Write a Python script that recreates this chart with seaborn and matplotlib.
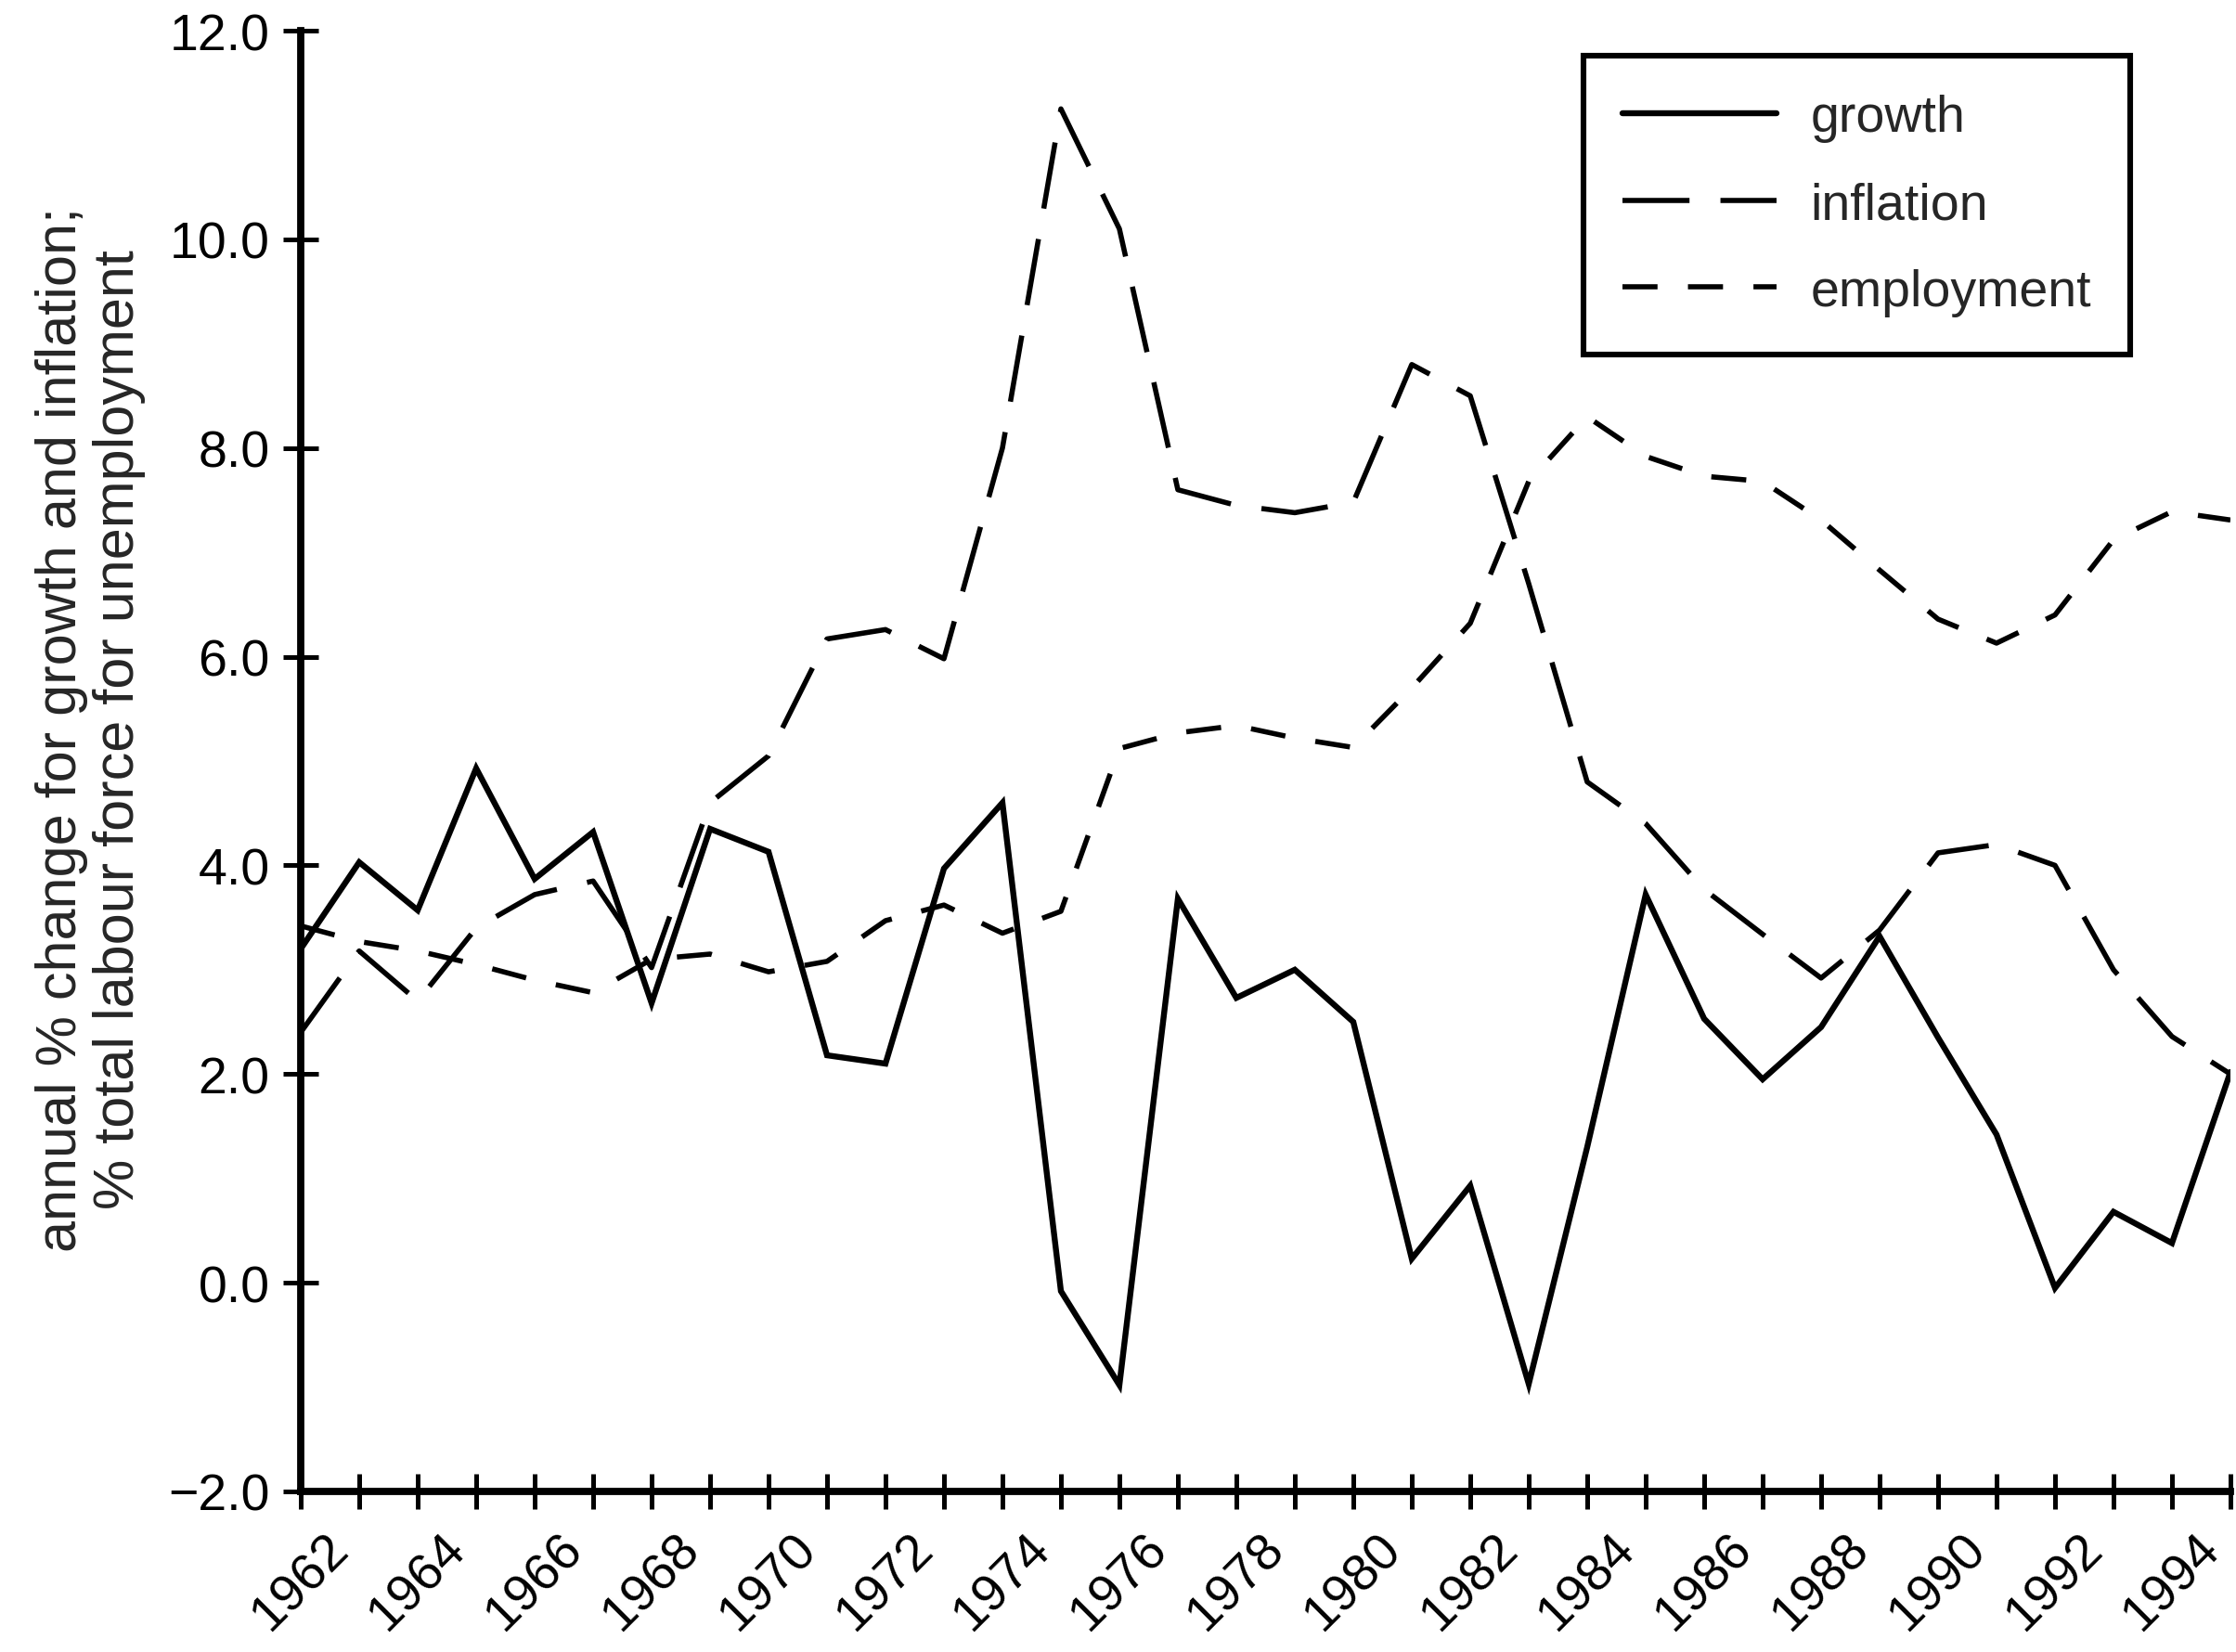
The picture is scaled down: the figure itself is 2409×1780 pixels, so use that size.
import matplotlib
matplotlib.use("Agg")
import matplotlib.pyplot as plt
import seaborn as sns
import pandas as pd

years = [1962, 1963, 1964, 1965, 1966, 1967, 1968, 1969, 1970, 1971, 1972,
         1973, 1974, 1975, 1976, 1977, 1978, 1979, 1980, 1981, 1982, 1983,
         1984, 1985, 1986, 1987, 1988, 1989, 1990, 1991, 1992, 1993, 1994, 1995]

growth = [3.20, 4.03, 3.57, 4.93, 3.87, 4.32, 2.68, 4.35, 4.13, 2.18, 2.10,
          3.97, 4.60, -0.08, -0.98, 3.68, 2.73, 3.00, 2.50, 0.23, 0.93, -0.97,
          1.30, 3.72, 2.53, 1.95, 2.45, 3.32, 2.35, 1.42, -0.05, 0.68, 0.38, 2.02]

inflation = [2.40, 3.18, 2.70, 3.40, 3.72, 3.85, 3.02, 4.60, 5.05, 6.17, 6.26,
             5.98, 8.00, 11.25, 10.10, 7.60, 7.45, 7.38, 7.48, 8.80, 8.50, 6.70,
             4.80, 4.40, 3.77, 3.34, 2.92, 3.38, 4.12, 4.20, 4.00, 3.00, 2.36, 2.00]

employment = [3.42, 3.27, 3.18, 3.05, 2.90, 2.78, 3.10, 3.15, 2.98, 3.08, 3.47,
              3.62, 3.35, 3.56, 5.12, 5.27, 5.34, 5.22, 5.13, 5.70, 6.32, 7.68,
              8.30, 7.92, 7.73, 7.68, 7.31, 6.83, 6.36, 6.13, 6.40, 7.12, 7.39, 7.31]

series_names = ["growth", "inflation", "employment"]
y_ticks = [-2.0, 0.0, 2.0, 4.0, 6.0, 8.0, 10.0, 12.0]
x_labelled = [1962, 1964, 1966, 1968, 1970, 1972, 1974, 1976, 1978, 1980,
              1982, 1984, 1986, 1988, 1990, 1992, 1994]
y_label = "annual % change for growth and inflation;\n% total labour force for unemployment"

df = pd.DataFrame({"year": years, "growth": growth,
                   "inflation": inflation, "employment": employment})

sns.set_style("white")
plt.rcParams["font.family"] = ["Liberation Sans", "DejaVu Sans"]

DPI = 200
fig = plt.figure(figsize=(2409 / DPI, 1781 / DPI), dpi=DPI)
ax = fig.add_axes([324 / 2409, (1781 - 1608) / 1781,
                   (2403 - 324) / 2409, (1608 - 34) / 1781])

styles = {
    "growth": dict(lw=2.3, ls="-"),
    "inflation": dict(lw=2.0, ls=(0, (13, 6))),
    "employment": dict(lw=2.0, ls=(0, (6.8, 5.9))),
}
for name in series_names:
    sns.lineplot(data=df, x="year", y=name, ax=ax, color="black",
                 linewidth=styles[name]["lw"], linestyle=styles[name]["ls"],
                 label=name, solid_joinstyle="miter")

ax.set_xlim(1962, 1995)
ax.set_ylim(-2, 12)
ax.set_yticks(y_ticks)
ax.set_yticklabels([f"{v:.1f}".replace("-", "\u2212") for v in y_ticks])
ax.set_xticks(years)
ax.set_xticklabels([str(y) if y in x_labelled else "" for y in years],
                   rotation=45, ha="center", va="top")

for side in ["top", "right"]:
    ax.spines[side].set_visible(False)
for side in ["left", "bottom"]:
    ax.spines[side].set_color("black")
    ax.spines[side].set_linewidth(2.8)

ax.tick_params(axis="both", direction="inout", length=14, width=1.8,
               color="black", labelsize=20, labelcolor="black",
               bottom=True, left=True, top=False, right=False)
ax.tick_params(axis="y", pad=5)
ax.tick_params(axis="x", pad=5.5)

ax.set_xlabel("")
ax.set_ylabel(y_label, fontsize=22, linespacing=1.1, ha="center", va="center",
              rotation=90, rotation_mode="default")
ax.yaxis.set_label_coords(-0.109, 0.522)

leg = ax.legend(loc="upper right", bbox_to_anchor=(0.948, 0.983),
                fontsize=20, frameon=True, fancybox=False, shadow=False,
                borderpad=0.75, handlelength=3.0, handletextpad=0.65,
                labelspacing=0.75, borderaxespad=0.0)
frame = leg.get_frame()
frame.set_edgecolor("black")
frame.set_linewidth(2.2)
frame.set_facecolor("white")
frame.set_alpha(1)

fig.savefig("out.png", dpi=DPI, facecolor="white")
